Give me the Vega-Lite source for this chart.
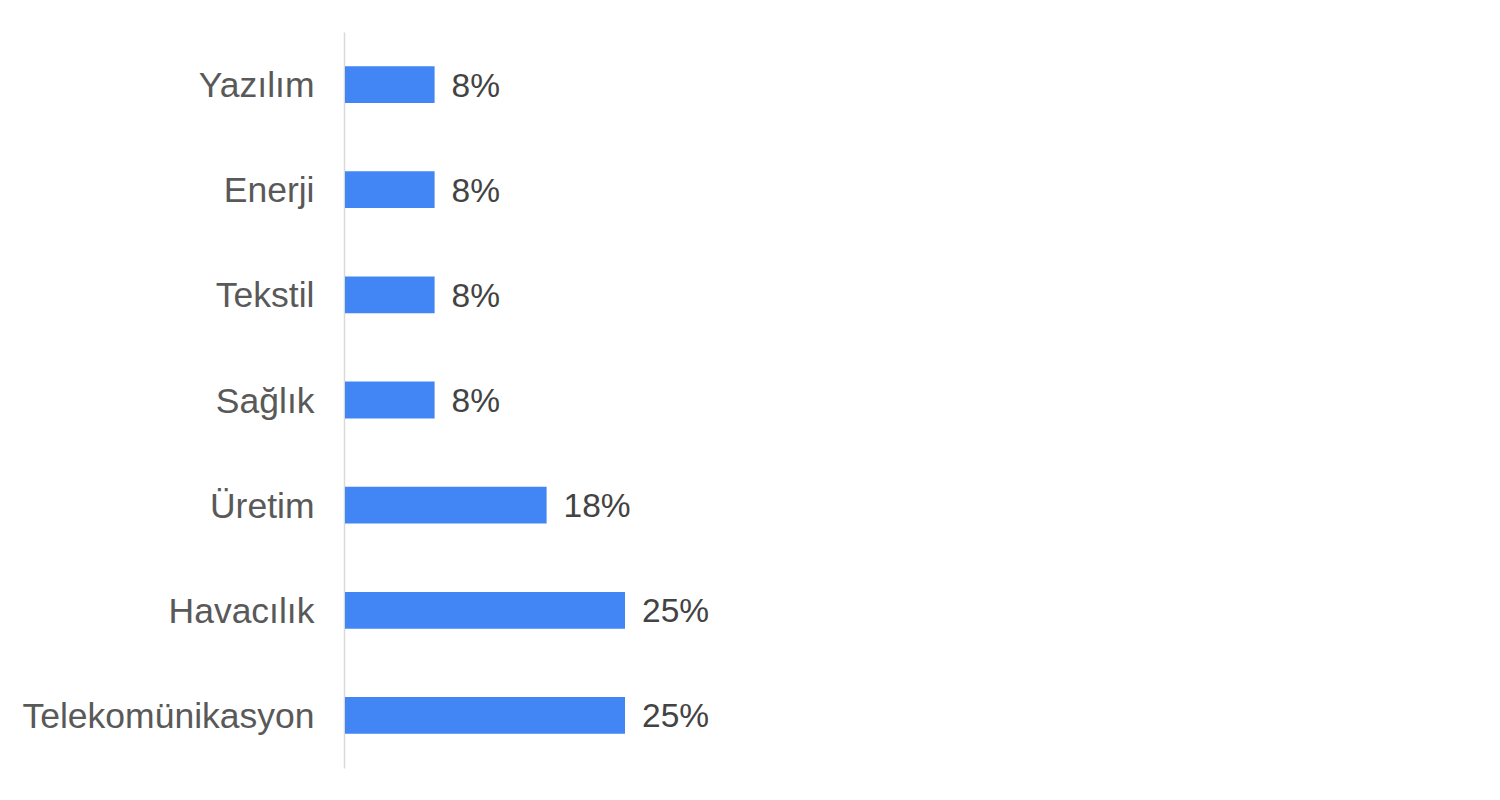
{
  "$schema": "https://vega.github.io/schema/vega-lite/v6.json",
  "autosize": {"type": "none"},
  "padding": {"left": 344, "top": 32, "right": 36, "bottom": 32},
  "width": 1120,
  "height": 736,
  "background": "white",
  "data": {"values": [
    {"sector": "Yazılım", "value": 0.08},
    {"sector": "Enerji", "value": 0.08},
    {"sector": "Tekstil", "value": 0.08},
    {"sector": "Sağlık", "value": 0.08},
    {"sector": "Üretim", "value": 0.18},
    {"sector": "Havacılık", "value": 0.25},
    {"sector": "Telekomünikasyon", "value": 0.25}
  ]},
  "config": {"view": {"stroke": null}, "font": "Liberation Sans"},
  "encoding": {
    "y": {
      "field": "sector", "type": "nominal", "sort": null,
      "scale": {"paddingInner": 0.65, "paddingOuter": 0.325},
      "axis": {
        "title": null, "ticks": false, "labelFontSize": 35.5, "labelColor": "#595959",
        "labelPadding": 30, "labelOffset": 1.5, "domainColor": "#d9d9d9", "domainWidth": 1.5, "labelLimit": 500
      }
    },
    "x": {
      "field": "value", "type": "quantitative",
      "scale": {"domain": [0, 1]},
      "axis": null
    }
  },
  "layer": [
    {"mark": {"type": "bar", "color": "#4285F4", "xOffset": 1}},
    {"mark": {"type": "text", "align": "left", "baseline": "middle", "dx": 18, "dy": 2, "fontSize": 33.5, "color": "#434343"},
     "encoding": {"text": {"field": "value", "type": "quantitative", "format": ".0%"}}}
  ]
}
